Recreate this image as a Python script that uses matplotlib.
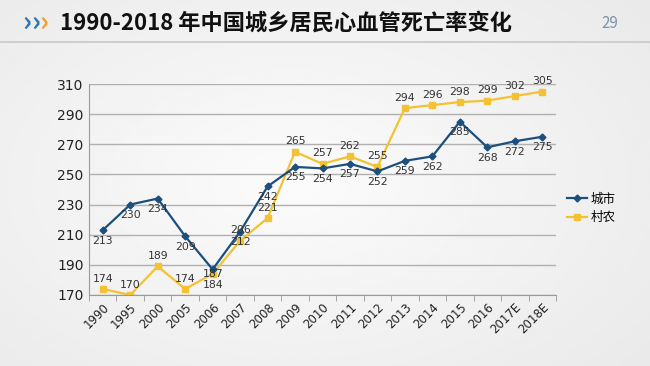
import matplotlib
matplotlib.use("Agg")
import matplotlib.pyplot as plt
import numpy as np

plt.rcParams['font.family'] = ['Noto Sans CJK SC', 'DejaVu Sans']

years = ['1990', '1995', '2000', '2005', '2006', '2007', '2008', '2009', '2010',
         '2011', '2012', '2013', '2014', '2015', '2016', '2017E', '2018E']
urban = [213, 230, 234, 209, 187, 212, 242, 255, 254, 257, 252, 259, 262, 285, 268, 272, 275]
rural = [174, 170, 189, 174, 184, 206, 221, 265, 257, 262, 255, 294, 296, 298, 299, 302, 305]
yticks = [170, 190, 210, 230, 250, 270, 290, 310]

blue = '#1d4f7c'
yellow = '#f3c233'

fig = plt.figure(figsize=(6.5, 3.66), dpi=100)

# soft grey background
bg = fig.add_axes([0, 0, 1, 1], zorder=-10)
yy, xx = np.mgrid[0:1:200j, 0:1:300j]
shade = 0.985 - 0.09 * np.sqrt((xx - 0.45) ** 2 * 1.2 + (yy - 0.5) ** 2)
bg.imshow(shade, cmap='gray', vmin=0, vmax=1, aspect='auto', extent=[0, 1, 0, 1])
bg.axhline(1 - 42 / 366, color='#c8c8c8', lw=1.2)
bg.set_xlim(0, 1)
bg.set_ylim(0, 1)
bg.axis('off')

# header
fig.text(0.035, 1 - 23 / 366, '›', color='#2e75b6', fontsize=20, fontweight='bold', va='center')
fig.text(0.048, 1 - 23 / 366, '›', color='#2e75b6', fontsize=20, fontweight='bold', va='center')
fig.text(0.061, 1 - 23 / 366, '›', color='#f0a030', fontsize=20, fontweight='bold', va='center')
fig.text(0.093, 1 - 23 / 366, '1990-2018 年中国城乡居民心血管死亡率变化',
         fontsize=16, fontweight='bold', color='#111111', va='center')
fig.text(0.925, 1 - 24 / 366, '29', fontsize=11, color='#7f93a8', va='center')

ax = fig.add_axes([89 / 650, 1 - 295 / 366, (556 - 89) / 650, (295 - 84) / 366])
ax.patch.set_alpha(0)
x = np.arange(len(years))
ax.plot(x, urban, color=blue, lw=1.6, marker='D', ms=3.5, label='城市', zorder=3)
ax.plot(x, rural, color=yellow, lw=1.6, marker='s', ms=5, label='村农', zorder=2)

for i in range(len(years)):
    du, dr = -7.5, 7.5
    if years[i] == '2006':  # crowded spot, both labels sit low
        du, dr = -3, -8
    ax.annotate(str(urban[i]), (x[i], urban[i]), xytext=(0, du), textcoords='offset points',
                ha='center', va='center', fontsize=7.8, color='#333333', family='DejaVu Sans')
    ax.annotate(str(rural[i]), (x[i], rural[i]), xytext=(0, dr), textcoords='offset points',
                ha='center', va='center', fontsize=7.8, color='#333333', family='DejaVu Sans')

ax.set_xlim(-0.5, len(years) - 0.5)
ax.set_ylim(170, 310)
ax.set_yticks(yticks)
ax.set_yticklabels([str(v) for v in yticks], fontsize=10, color='#222222', family='DejaVu Sans')
ax.set_xticks(x)
ax.set_xticklabels(years, rotation=45, ha='right', rotation_mode='anchor', fontsize=8.5,
                   color='#222222', family='DejaVu Sans')
ax.set_xticks(np.arange(-0.5, len(years)), minor=True)
ax.tick_params(axis='x', which='major', length=0, pad=4)
ax.tick_params(axis='x', which='minor', length=4, color='#999999')
ax.tick_params(axis='y', length=0, pad=4)
ax.grid(axis='y', color='#b0b0b0', lw=1)
ax.set_axisbelow(True)
for s in ['top', 'right']:
    ax.spines[s].set_visible(False)
ax.spines['left'].set_color('#999999')
ax.spines['bottom'].set_color('#999999')

ax.legend(loc='center left', bbox_to_anchor=(1.0, 0.41), frameon=False, fontsize=9,
          handlelength=1.6, handletextpad=0.3, labelspacing=0.45)

fig.savefig('out.png', dpi=100)
